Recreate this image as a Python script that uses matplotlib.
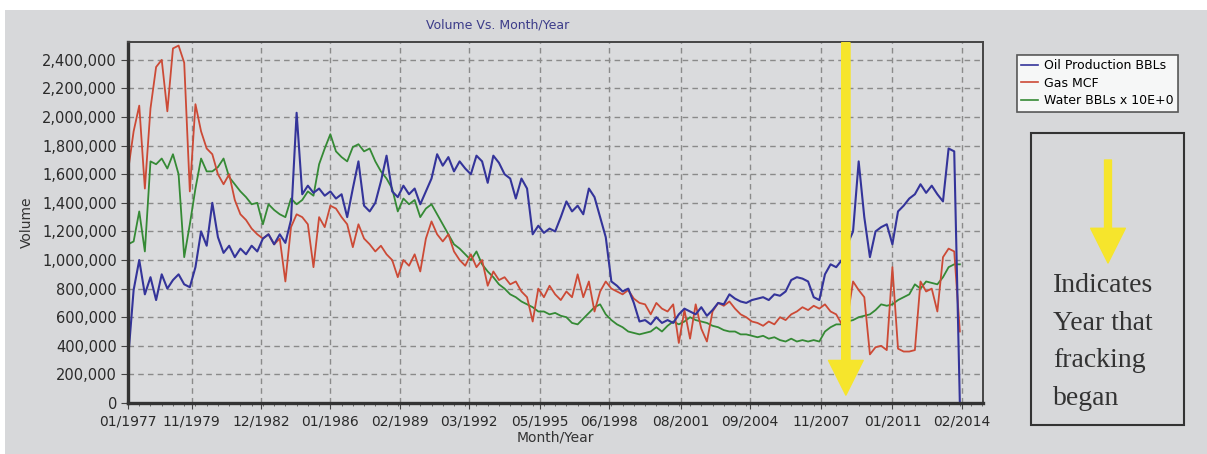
import numpy as np
import matplotlib
matplotlib.use("Agg")
import matplotlib.pyplot as plt
from matplotlib.lines import Line2D
from matplotlib.patches import Rectangle
from matplotlib.ticker import FixedLocator, MultipleLocator, FuncFormatter

# quarterly readings (thousands), 1977.00 .. 2014.00
oil = [
    300, 790, 1000, 760,      # 1977
    880, 720, 900, 800,       # 1978
    860, 900, 830, 810,       # 1979
    950, 1200, 1100, 1400,    # 1980
    1160, 1050, 1100, 1020,   # 1981
    1080, 1040, 1100, 1060,   # 1982
    1150, 1180, 1110, 1180,   # 1983
    1120, 1280, 2030, 1460,   # 1984
    1520, 1470, 1500, 1450,   # 1985
    1480, 1430, 1460, 1300,   # 1986
    1500, 1690, 1380, 1340,   # 1987
    1400, 1550, 1730, 1480,   # 1988
    1440, 1520, 1460, 1500,   # 1989
    1390, 1480, 1570, 1740,   # 1990
    1660, 1720, 1620, 1690,   # 1991
    1640, 1600, 1730, 1690,   # 1992
    1540, 1730, 1680, 1600,   # 1993
    1570, 1430, 1570, 1500,   # 1994
    1180, 1240, 1190, 1220,   # 1995
    1200, 1300, 1410, 1340,   # 1996
    1380, 1320, 1500, 1440,   # 1997
    1300, 1160, 850, 820,     # 1998
    780, 800, 700, 570,       # 1999
    580, 550, 600, 560,       # 2000
    580, 560, 620, 660,       # 2001
    640, 620, 670, 610,       # 2002
    650, 700, 690, 760,       # 2003
    730, 710, 700, 720,       # 2004
    730, 740, 720, 760,       # 2005
    750, 780, 860, 880,       # 2006
    870, 850, 740, 720,       # 2007
    900, 970, 950, 1000,      # 2008
    1110, 1200, 1690, 1300,   # 2009
    1020, 1200, 1230, 1250,   # 2010
    1110, 1340, 1380, 1430,   # 2011
    1460, 1530, 1470, 1520,   # 2012
    1460, 1410, 1780, 1760,   # 2013
    0,                        # 2014
]
gas = [
    1620, 1900, 2080, 1500,
    2060, 2350, 2400, 2040,
    2480, 2500, 2380, 1480,
    2090, 1900, 1780, 1740,
    1600, 1530, 1600, 1420,
    1320, 1280, 1220, 1180,
    1150, 1180, 1110, 1150,
    850, 1230, 1320, 1300,
    1250, 950, 1300, 1230,
    1380, 1360, 1300, 1250,
    1090, 1250, 1150, 1110,
    1060, 1100, 1040, 1000,
    880, 1000, 960, 1040,
    920, 1150, 1270, 1180,
    1130, 1180, 1060, 1000,
    960, 1040, 950, 1000,
    820, 920, 860, 880,
    830, 850, 780, 740,
    570, 800, 740, 820,
    760, 720, 780, 740,
    900, 740, 850, 640,
    780, 850, 800, 780,
    760, 790, 730, 700,
    690, 620, 700, 660,
    640, 690, 420, 650,
    450, 690, 520, 430,
    640, 700, 680, 710,
    660, 620, 600, 570,
    560, 540, 570, 550,
    600, 580, 620, 640,
    670, 650, 680, 660,
    690, 640, 620, 550,
    600, 850, 790, 740,
    340, 390, 400, 370,
    950, 380, 360, 360,
    370, 850, 780, 800,
    640, 1020, 1080, 1060,
    500,
]
water = [
    1110, 1130, 1340, 1060,
    1690, 1670, 1710, 1640,
    1740, 1600, 1020, 1250,
    1500, 1710, 1620, 1620,
    1650, 1710, 1580, 1530,
    1480, 1440, 1390, 1400,
    1250, 1390, 1350, 1320,
    1300, 1430, 1390, 1420,
    1480, 1450, 1670, 1780,
    1880, 1760, 1720, 1690,
    1790, 1810, 1760, 1780,
    1690, 1620, 1570, 1500,
    1340, 1430, 1390, 1420,
    1300, 1360, 1390, 1320,
    1250, 1180, 1110, 1080,
    1040, 1000, 1060, 970,
    920, 880, 830, 800,
    760, 740, 710, 690,
    670, 640, 640, 620,
    630, 610, 600, 560,
    550, 590, 630, 670,
    690, 620, 580, 550,
    530, 500, 490, 480,
    490, 500, 530, 500,
    540, 570, 550, 570,
    600, 580, 570, 560,
    540, 530, 510, 500,
    500, 480, 480, 470,
    460, 470, 450, 460,
    440, 430, 450, 430,
    440, 430, 440, 430,
    500, 530, 550, 550,
    570, 580, 600, 610,
    620, 650, 690, 680,
    690, 720, 740, 760,
    830, 800, 850, 840,
    830, 880, 950, 970,
    970,
]
series_names = ["Oil Production BBLs", "Gas MCF", "Water BBLs x 10E+0"]
tick_labels = ["01/1977", "11/1979", "12/1982", "01/1986", "02/1989", "03/1992",
               "05/1995", "06/1998", "08/2001", "09/2004", "11/2007", "01/2011", "02/2014"]
frack_year = 2008.93

years = 1977 + np.arange(len(oil)) / 4.0
tick_pos = [int(t[3:]) + (int(t[:2]) - 1) / 12.0 for t in tick_labels]

bg = "#d7d8da"
c_oil, c_gas, c_water = "#34349a", "#cc4a36", "#358a35"
yellow = "#f6e52c"

fig = plt.figure(figsize=(12.07, 4.54), dpi=100, facecolor=bg)
fig.patches.append(Rectangle((0, 1 - 10 / 454), 1, 10 / 454, transform=fig.transFigure,
                             facecolor="white", edgecolor="none", zorder=0))
fig.patches.append(Rectangle((0, 0), 5 / 1207, 1, transform=fig.transFigure,
                             facecolor="white", edgecolor="none", zorder=0))

ax = fig.add_axes([128 / 1207, 1 - 403 / 454, 855 / 1207, 361 / 454])
ax.set_facecolor("#dadbdd")

ax.plot(years, np.array(water) * 1000, color=c_water, lw=1.3)
ax.plot(years, np.array(gas) * 1000, color=c_gas, lw=1.3)
ax.plot(years, np.array(oil) * 1000, color=c_oil, lw=1.5)

ax.set_xlim(1977, 2015.03)
ax.set_ylim(0, 2525000)
ax.xaxis.set_major_locator(FixedLocator(tick_pos))
ax.set_xticklabels(tick_labels)
ax.xaxis.set_minor_locator(MultipleLocator(0.5))
ax.yaxis.set_major_locator(MultipleLocator(200000))
ax.yaxis.set_major_formatter(FuncFormatter(lambda v, p: f"{int(v):,}"))
ax.tick_params(axis="y", labelsize=10.5, length=5, pad=3, color="#444", labelcolor="#2a2a2a")
ax.tick_params(axis="x", labelsize=10, length=4, pad=4, color="#444", labelcolor="#2a2a2a")
ax.tick_params(axis="x", which="minor", length=2.5, color="#555")
ax.grid(True, color="#8a8a8a", lw=1, linestyle=(0, (4, 3)))
for s in ["left", "bottom"]:
    ax.spines[s].set_linewidth(2.4)
    ax.spines[s].set_color("#333")
for s in ["top", "right"]:
    ax.spines[s].set_linewidth(1.4)
    ax.spines[s].set_color("#444")

ax.set_xlabel("Month/Year", fontsize=10, color="#333", labelpad=2)
ax.set_ylabel("Volume", fontsize=10, color="#333", labelpad=6)
fig.text(498 / 1207, 1 - 25 / 454, "Volume Vs. Month/Year", fontsize=9, color="#3c3c8a",
         ha="center", va="center")

# fracking arrow
ax.annotate("", xy=(frack_year, 55000), xytext=(frack_year, 2520000),
            arrowprops=dict(arrowstyle="simple,head_length=25,head_width=25,tail_width=6",
                            mutation_scale=1, color=yellow, shrinkA=0, shrinkB=0))

# legend
handles = [Line2D([], [], color=c, lw=1.2) for c in (c_oil, c_gas, c_water)]
leg = fig.legend(handles, series_names, loc="upper left",
                 bbox_to_anchor=(1017 / 1207, 1 - 55 / 454), fontsize=9,
                 frameon=True, fancybox=False, handlelength=1.3, handletextpad=0.5,
                 borderpad=0.35, labelspacing=0.35, borderaxespad=0)
leg.get_frame().set_edgecolor("#333")
leg.get_frame().set_linewidth(1.2)
leg.get_frame().set_facecolor("white")

# explanation box
fig.patches.append(Rectangle((1031 / 1207, 1 - 425 / 454), 153 / 1207, 292 / 454,
                             transform=fig.transFigure, facecolor="none",
                             edgecolor="#333", lw=1.5))
fig.patches.append(matplotlib.patches.FancyArrowPatch(
    (1108, 454 - 160), (1108, 454 - 263), transform=None,
    arrowstyle="simple,head_length=25,head_width=25,tail_width=5",
    mutation_scale=1, color=yellow, shrinkA=0, shrinkB=0))
fig.text(1053 / 1207, 1 - 342 / 454, "Indicates\nYear that\nfracking\nbegan",
         family="Liberation Serif", fontsize=20, color="#333", ha="left", va="center",
         linespacing=1.68)

fig.savefig("out.png", dpi=100, facecolor=bg)
